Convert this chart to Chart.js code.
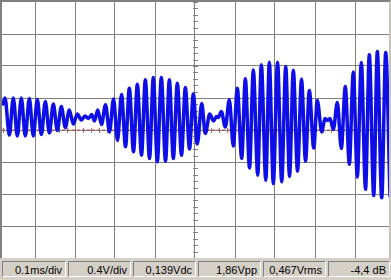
<!DOCTYPE html>
<html>
<head>
<meta charset="utf-8">
<script src="https://cdn.jsdelivr.net/npm/chart.js@4.4.1/dist/chart.umd.min.js"></script>
<style>
  html, body { margin: 0; padding: 0; background: #d4d0c8; }
  body { width: 391px; height: 280px; overflow: hidden; position: relative;
         font-family: "Liberation Sans", Arial, sans-serif; }
  #scope { position: absolute; left: 0; top: 0; width: 391px; height: 258px;
           box-sizing: border-box; background: #fff;
           border-left: 2px solid #808080; border-top: 2px solid #808080;
           border-right: 2px solid #c8c4bc; }
  #scope canvas { display: block; }
  #status { position: absolute; left: 0; top: 258px; width: 391px; height: 22px; background: #d4d0c8; }
  .panel { position: absolute; top: 3px; height: 13px; padding: 1px 3px 0 0;
           border-top: 1px solid #808080; border-left: 1px solid #808080;
           border-bottom: 1px solid #fff; border-right: 1px solid #fff;
           font-size: 11px; line-height: 14px; text-align: right; color: #000;
           white-space: nowrap; }
</style>
</head>
<body>
<div id="scope"><canvas id="scopeChart" width="387" height="256"></canvas></div>
<div id="status">
  <div class="panel" style="left:2px;width:59px"></div>
  <div class="panel" style="left:68px;width:58px"></div>
  <div class="panel" style="left:133px;width:58px"></div>
  <div class="panel" style="left:198px;width:58px"></div>
  <div class="panel" style="left:263px;width:58px"></div>
  <div class="panel" style="left:328px;width:57px"></div>
</div>
<script>
// time of each turning point of the trace (ms) and its level (V)
const timeMs = [
    0.0200, 0.0250, 0.0358, 0.0458, 0.0558, 0.0658, 0.0758, 0.0858, 0.0958, 0.1058,
    0.1158, 0.1258, 0.1358, 0.1458, 0.1558, 0.1658, 0.1758, 0.1858, 0.1958, 0.2058,
    0.2158, 0.2250, 0.2338, 0.2418, 0.2488, 0.2568, 0.2663, 0.2763, 0.2863, 0.2963,
    0.3063, 0.3163, 0.3263, 0.3358, 0.3463, 0.3558, 0.3663, 0.3758, 0.3863, 0.3958,
    0.4058, 0.4158, 0.4263, 0.4358, 0.4458, 0.4558, 0.4663, 0.4758, 0.4863, 0.4958,
    0.5058, 0.5168, 0.5258, 0.5368, 0.5463, 0.5538, 0.5583, 0.5658, 0.5758, 0.5858,
    0.5958, 0.6058, 0.6168, 0.6258, 0.6363, 0.6458, 0.6568, 0.6658, 0.6770, 0.6858,
    0.6958, 0.7063, 0.7168, 0.7268, 0.7363, 0.7458, 0.7563, 0.7663, 0.7763, 0.7858,
    0.7968, 0.8058, 0.8168, 0.8250, 0.8313, 0.8375, 0.8458, 0.8558, 0.8658, 0.8758,
    0.8858, 0.8958, 0.9058, 0.9158, 0.9263, 0.9358, 0.9468, 0.9558, 0.9668, 0.9768,
    0.9875,
];
const volts = [
    0.325, 0.400, -0.063, 0.400, -0.075, 0.400, -0.075, 0.394, -0.075, 0.381,
    -0.056, 0.356, -0.038, 0.325, -0.006, 0.294, 0.031, 0.250, 0.075, 0.200,
    0.125, 0.175, 0.144, 0.194, 0.113, 0.250, 0.069, 0.315, -0.025, 0.388,
    -0.131, 0.444, -0.210, 0.523, -0.273, 0.573, -0.315, 0.628, -0.356, 0.656,
    -0.398, 0.656, -0.390, 0.628, -0.356, 0.585, -0.315, 0.531, -0.238, 0.450,
    -0.175, 0.331, -0.044, 0.200, 0.113, 0.169, 0.156, 0.231, 0.038, 0.378,
    -0.200, 0.523, -0.356, 0.640, -0.475, 0.750, -0.565, 0.815, -0.628, 0.848,
    -0.669, 0.848, -0.648, 0.794, -0.581, 0.746, -0.515, 0.634, -0.388, 0.494,
    -0.225, 0.369, -0.025, 0.144, 0.119, 0.144, 0.006, 0.344, -0.231, 0.544,
    -0.429, 0.725, -0.588, 0.844, -0.741, 0.940, -0.819, 0.981, -0.848, 0.969,
    -0.825,
];
const xTicks = [0.1, 0.2, 0.3, 0.4, 0.5, 0.6, 0.7, 0.8, 0.9];
const yTicks = [-1.2, -0.8, -0.4, 0, 0.4, 0.8, 1.2];
const refLevel = 0;
const readouts = ["0.1ms/div", "0.4V/div", "0,139Vdc", "1,86Vpp", "0,467Vrms", "-4,4 dB"];

const xMin = 0.0175, xMax = 0.985;
const yMin = -1.6, yMax = 1.6;

document.querySelectorAll("#status .panel").forEach(function (el, i) {
    el.textContent = readouts[i];
});

// small division marks along the two centre lines
const centreMarks = {
    id: "centreMarks",
    beforeDatasetsDraw(chart) {
        const ctx = chart.ctx;
        const x = chart.scales.x, y = chart.scales.y;
        const cx = Math.round(x.getPixelForValue(0.5)) + 0.5;
        const cy = Math.round(y.getPixelForValue(0)) + 0.5;
        ctx.save();
        ctx.strokeStyle = "#808080";
        ctx.lineWidth = 1;
        ctx.beginPath();
        for (let k = -20; k <= 20; k++) {
            const py = Math.round(y.getPixelForValue(k * 0.08)) + 0.5;
            ctx.moveTo(cx - 2.5, py);
            ctx.lineTo(cx + 2.5, py);
        }
        for (let k = 1; k * 0.02 < xMax; k++) {
            const px = Math.round(x.getPixelForValue(k * 0.02)) + 0.5;
            ctx.moveTo(px, cy - 2.5);
            ctx.lineTo(px, cy + 2.5);
        }
        ctx.stroke();
        ctx.restore();
    },
};

const trace = timeMs.map(function (t, i) { return { x: t, y: volts[i] }; });

new Chart(document.getElementById("scopeChart"), {
    type: "line",
    data: {
        datasets: [
            {
                data: trace,
                borderColor: "#0e0ee6",
                borderWidth: 3.5,
                pointRadius: 0,
                cubicInterpolationMode: "monotone",
                borderJoinStyle: "round",
                borderCapStyle: "round",
                order: 0,
            },
            {
                data: [{ x: xMin, y: refLevel }, { x: xMax, y: refLevel }],
                borderColor: "#c04040",
                borderWidth: 1,
                borderDash: [3, 2],
                pointRadius: 0,
                order: 1,
            },
        ],
    },
    options: {
        responsive: false,
        animation: false,
        events: [],
        layout: { padding: 0 },
        scales: {
            x: {
                type: "linear",
                min: xMin,
                max: xMax,
                afterBuildTicks: function (s) { s.ticks = xTicks.map(function (v) { return { value: v }; }); },
                afterFit: function (s) { s.height = 0; },
                ticks: { display: false },
                border: { display: false },
                grid: { color: "#808080", lineWidth: 1, drawTicks: false },
            },
            y: {
                type: "linear",
                min: yMin,
                max: yMax,
                afterBuildTicks: function (s) { s.ticks = yTicks.map(function (v) { return { value: v }; }); },
                afterFit: function (s) { s.width = 0; },
                ticks: { display: false },
                border: { display: false },
                grid: { color: "#808080", lineWidth: 1, drawTicks: false },
            },
        },
        plugins: {
            legend: { display: false },
            tooltip: { enabled: false },
        },
    },
    plugins: [centreMarks],
});
</script>
</body>
</html>
